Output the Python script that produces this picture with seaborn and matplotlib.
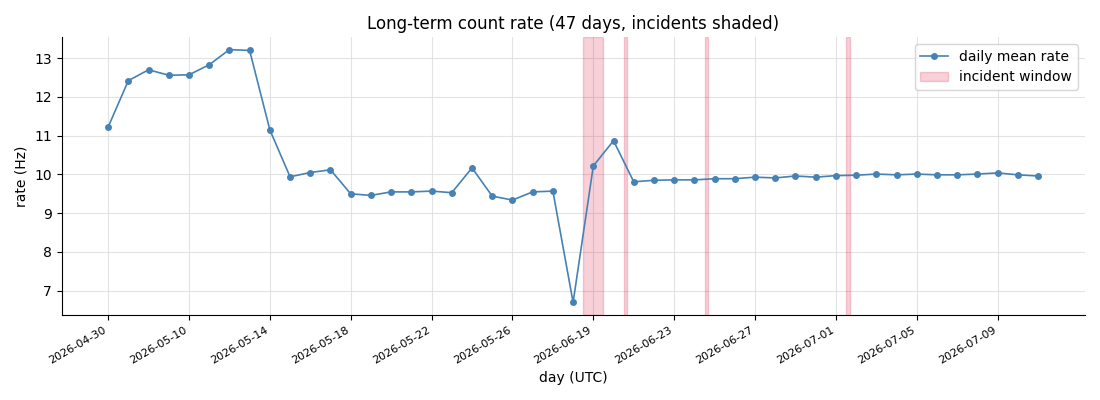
import matplotlib
matplotlib.use("Agg")
import matplotlib.pyplot as plt
import seaborn as sns
import pandas as pd

days = (["2026-04-30", "2026-05-07", "2026-05-08", "2026-05-09"]
        + [f"2026-05-{d:02d}" for d in range(10, 30)]
        + [f"2026-06-{d:02d}" for d in range(19, 31)]
        + [f"2026-07-{d:02d}" for d in range(1, 12)])

rate = [11.22, 12.42, 12.70, 12.56, 12.57, 12.83, 13.22, 13.20, 11.15, 9.94,
        10.05, 10.12, 9.50, 9.46, 9.55, 9.55, 9.57, 9.53, 10.17, 9.44,
        9.34, 9.55, 9.57, 6.70, 10.22, 10.87, 9.81, 9.85, 9.86, 9.86,
        9.89, 9.89, 9.93, 9.91, 9.96, 9.93, 9.97, 9.98, 10.01, 9.99,
        10.01, 9.99, 9.99, 10.01, 10.04, 9.99, 9.96]

incident_start = [23.5, 25.5, 29.5, 36.5]
incident_end = [24.5, 25.68, 29.68, 36.68]

df = pd.DataFrame({"idx": range(len(rate)), "rate": rate, "day": days})

fig, ax = plt.subplots(figsize=(11, 4), dpi=100)
fig.subplots_adjust(left=0.056, right=0.986, top=0.9075, bottom=0.2125)

for i, (s, e) in enumerate(zip(incident_start, incident_end)):
    ax.axvspan(s, e, color="crimson", alpha=0.2,
               label="incident window" if i == 0 else None, zorder=1)

sns.lineplot(data=df, x="idx", y="rate", ax=ax, color="steelblue",
             marker="o", markersize=5, markeredgewidth=0, linewidth=1.2,
             label="daily mean rate", zorder=3)

tick_pos = list(range(0, len(days), 4))
ax.set_xticks(tick_pos)
ax.set_xticklabels([days[i] for i in tick_pos], rotation=30, ha="right", fontsize=8)
ax.grid(True, color="#dddddd", linewidth=0.8, alpha=0.8)
ax.set_axisbelow(True)
for sp in ["top", "right"]:
    ax.spines[sp].set_visible(False)

ax.set_title("Long-term count rate (47 days, incidents shaded)")
ax.set_xlabel("day (UTC)")
ax.set_ylabel("rate (Hz)")

h, l = ax.get_legend_handles_labels()
order = [l.index("daily mean rate"), l.index("incident window")]
ax.legend([h[i] for i in order], [l[i] for i in order], loc="upper right")

fig.savefig("out.png", dpi=100)
